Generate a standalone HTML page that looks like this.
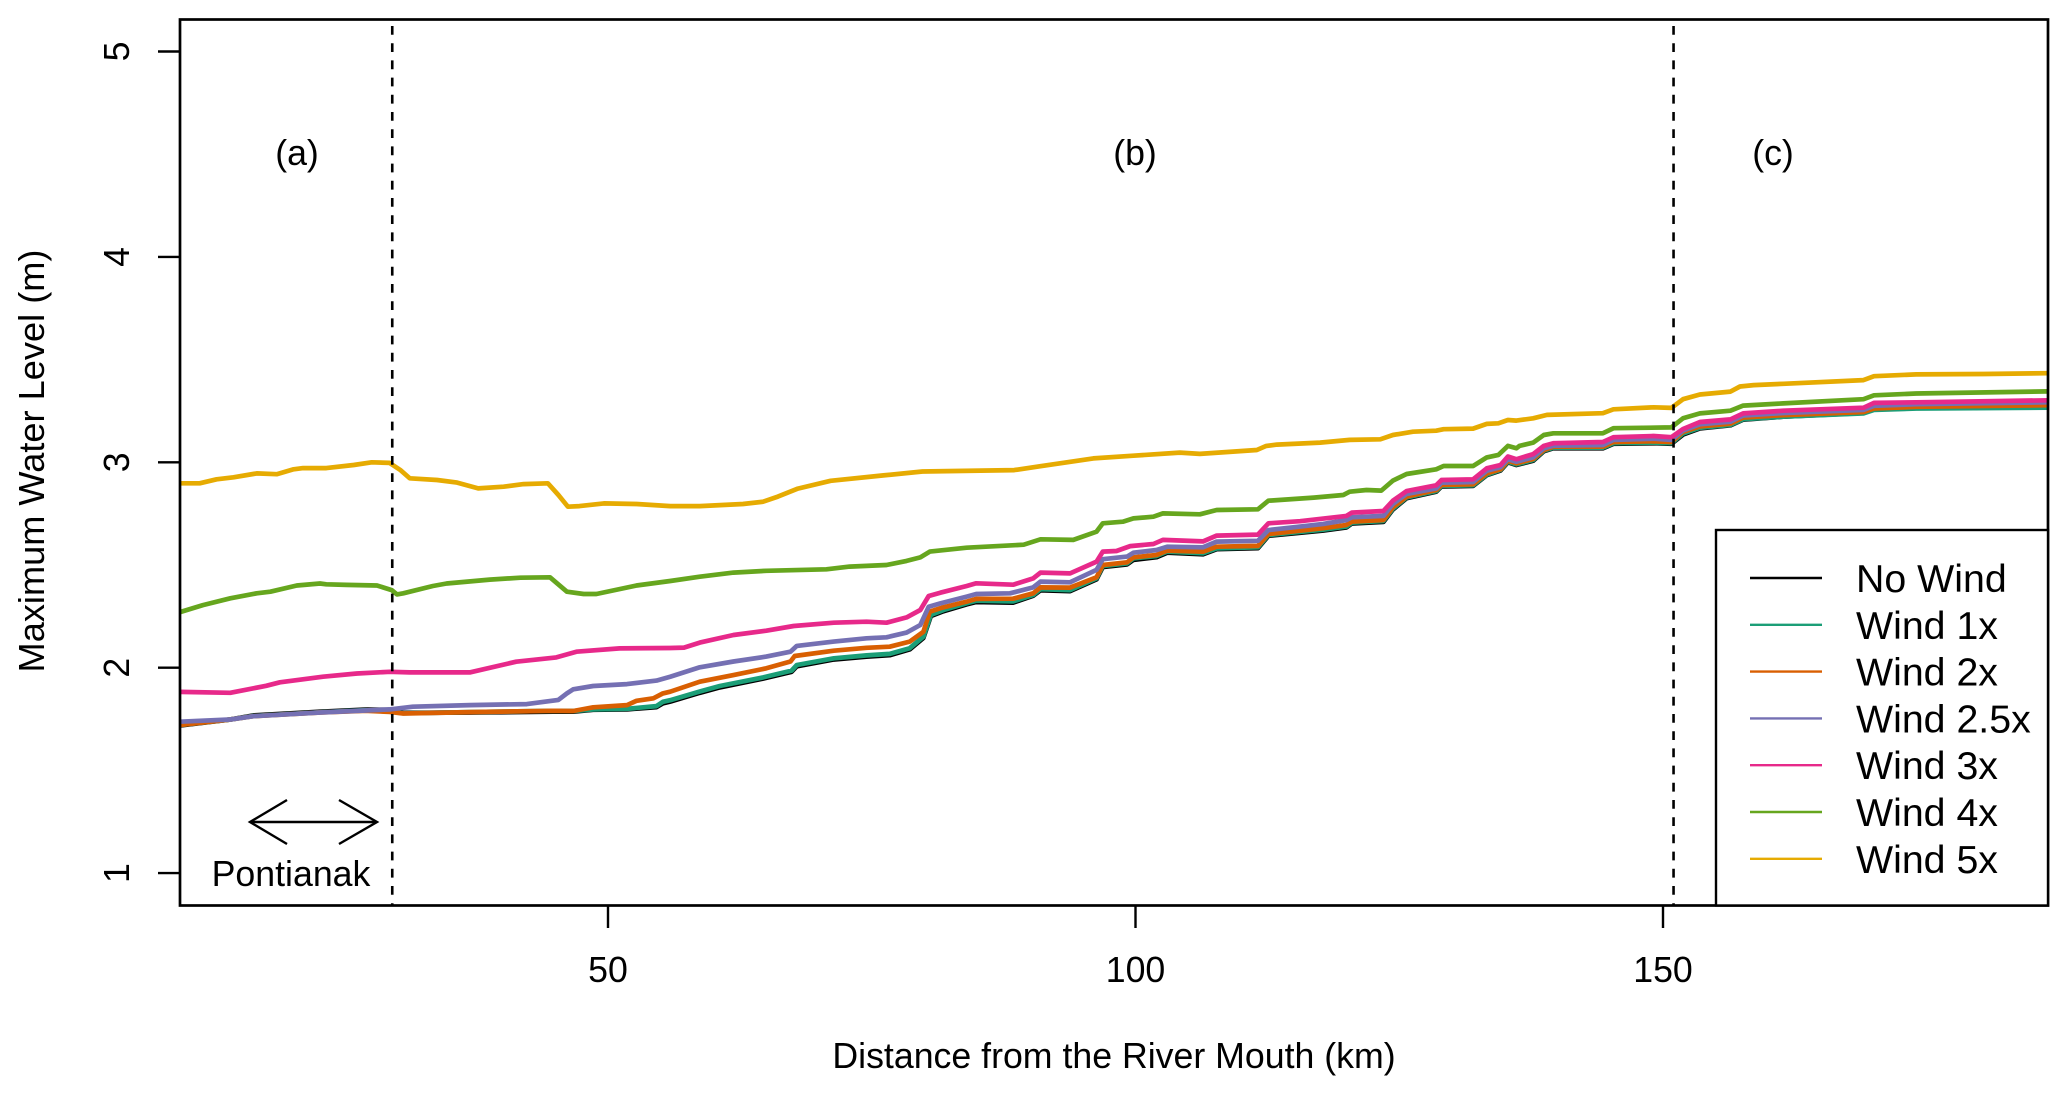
<!DOCTYPE html>
<html lang="en">
<head>
<meta charset="utf-8">
<title>Maximum Water Level vs Distance from the River Mouth</title>
<style>
html,body{margin:0;padding:0;background:#fff;width:2067px;height:1093px;overflow:hidden}
svg{display:block}
text{font-family:"Liberation Sans",Arial,sans-serif;fill:#000}
</style>
</head>
<body>
<svg id="chart" xmlns="http://www.w3.org/2000/svg" width="2067" height="1093" viewBox="0 0 2067 1093">
<rect x="0" y="0" width="2067" height="1093" fill="#fff"/>
<defs><clipPath id="plot-clip"><rect x="180" y="19.5" width="1868" height="886"/></clipPath></defs>
<g id="series-layer" clip-path="url(#plot-clip)"></g>
<g id="axis-layer"></g>
<rect x="180" y="19.5" width="1868" height="886" fill="none" stroke="#000" stroke-width="2.7"/>
<text x="1114" y="1068" font-size="35.7" text-anchor="middle">Distance from the River Mouth (km)</text>
<text transform="translate(44,461) rotate(-90)" font-size="36.2" text-anchor="middle">Maximum Water Level (m)</text>
<text x="297" y="165" font-size="35.7" text-anchor="middle">(a)</text>
<text x="1135" y="165" font-size="35.7" text-anchor="middle">(b)</text>
<text x="1773" y="165" font-size="35.7" text-anchor="middle">(c)</text>
<g fill="none" stroke="#000" stroke-width="2.4">
<line x1="250" y1="822" x2="377" y2="822"/>
<polyline points="287,800 250,822 287,844"/>
<polyline points="339,800 377,822 339,844"/>
</g>
<text x="291" y="886" font-size="35.7" text-anchor="middle">Pontianak</text>
<g id="legend-layer"></g>
</svg>
<script>
var xTicks = [50, 100, 150];
var yTicks = [1, 2, 3, 4, 5];
var regionBoundaries = [29.55, 151];

var noWindKm = [9.4,14.2,16.4,22.7,27,29.3,30.6,36.9,44.8,46.7,48.6,51.8,54.6,55.2,55.9,58.7,60.6,64.7,67.4,67.9,71.4,74.5,76.7,78.6,79.9,80.6,81.8,84,84.9,88.4,90.3,91,93.8,96.3,96.9,99.2,99.8,102,103,106.4,107.7,111.6,112.6,115.6,117.8,120,120.5,123.5,124.4,125.7,128.5,129,132,133.3,134.6,135.3,136.1,137.7,138.7,139.6,144.3,145.3,149.1,150.8,151.9,153.5,156.4,157.6,161.4,169,170,174,186.5];
var noWindLevel = [1.718,1.748,1.768,1.786,1.796,1.795,1.78,1.782,1.786,1.786,1.795,1.797,1.808,1.826,1.835,1.878,1.904,1.947,1.98,2.007,2.04,2.054,2.061,2.089,2.145,2.251,2.275,2.308,2.32,2.317,2.35,2.377,2.373,2.43,2.49,2.503,2.525,2.538,2.56,2.552,2.577,2.582,2.642,2.657,2.668,2.683,2.702,2.71,2.77,2.825,2.857,2.882,2.885,2.937,2.96,3,2.987,3.008,3.054,3.068,3.068,3.09,3.093,3.09,3.135,3.165,3.18,3.208,3.222,3.24,3.258,3.265,3.268];

var wind1xKm = [9.4,14.2,16.4,22.7,27,29.3,30.6,36.9,44.8,46.7,48.6,51.8,54.6,55.2,55.9,58.7,60.6,64.7,67.4,67.9,71.4,74.5,76.7,78.6,79.9,80.6,81.8,84,84.9,88.4,90.3,91,93.8,96.3,96.9,99.2,99.8,102,103,106.4,107.7,111.6,112.6,115.6,117.8,120,120.5,123.5,124.4,125.7,128.5,129,132,133.3,134.6,135.3,136.1,137.7,138.7,139.6,144.3,145.3,149.1,150.8,151.9,153.5,156.4,157.6,161.4,169,170,174,186.5];
var wind1xLevel = [1.721,1.748,1.765,1.783,1.793,1.787,1.778,1.784,1.79,1.789,1.797,1.8,1.813,1.834,1.842,1.884,1.911,1.953,1.986,2.013,2.046,2.06,2.067,2.095,2.151,2.257,2.281,2.314,2.326,2.323,2.354,2.382,2.378,2.435,2.495,2.508,2.532,2.544,2.565,2.557,2.581,2.586,2.646,2.661,2.672,2.687,2.706,2.714,2.774,2.829,2.86,2.885,2.888,2.94,2.963,3.003,2.99,3.011,3.057,3.071,3.071,3.093,3.096,3.093,3.14,3.168,3.182,3.21,3.222,3.238,3.255,3.262,3.266];

var wind2xKm = [9.4,14.2,16.4,22.7,27,29.3,30.6,36.9,44.8,46.7,48.6,51.8,52.7,54.3,55.2,55.9,58.7,61.9,65,67.3,67.7,71.4,74.5,76.7,78.6,79.9,80.5,81.8,84,84.9,88.4,90.3,91,93.8,96.3,96.9,99.2,99.8,102,103,106.4,107.7,111.6,112.6,115.6,117.8,120,120.5,123.5,124.4,125.7,128.5,129,132,133.3,134.6,135.3,136.1,137.7,138.7,139.6,144.3,145.3,149.1,150.8,151.9,153.5,156.4,157.6,161.4,169,170,174,186.5];
var wind2xLevel = [1.721,1.748,1.764,1.782,1.79,1.785,1.777,1.784,1.79,1.789,1.807,1.818,1.839,1.851,1.875,1.883,1.932,1.964,1.997,2.03,2.057,2.083,2.097,2.102,2.127,2.175,2.273,2.294,2.322,2.335,2.336,2.362,2.391,2.39,2.44,2.5,2.513,2.537,2.549,2.57,2.565,2.589,2.593,2.651,2.667,2.679,2.695,2.711,2.719,2.781,2.833,2.865,2.89,2.893,2.946,2.966,3.008,2.995,3.016,3.06,3.076,3.076,3.099,3.102,3.099,3.148,3.175,3.188,3.218,3.23,3.245,3.262,3.27,3.278];

var wind25xKm = [9.4,14.2,16.4,22.7,29.3,31.5,36.9,42.3,45.3,46.1,46.7,48.6,51.8,54.6,55.9,58.7,61.9,65,67.3,67.9,71.4,74.5,76.4,78.3,79.6,80.4,81.5,84,84.9,88.1,90.3,91,93.8,96.3,96.9,99.2,99.8,102,103,106.4,107.7,111.6,112.6,115.6,117.8,120,120.5,123.5,124.4,125.7,128.5,129,132,133.3,134.6,135.3,136.1,137.7,138.7,139.6,144.3,145.3,149.1,150.8,151.9,153.5,156.4,157.6,161.4,169,170,174,186.5];
var wind25xLevel = [1.737,1.748,1.764,1.782,1.797,1.81,1.818,1.823,1.843,1.875,1.895,1.911,1.92,1.937,1.956,2.002,2.03,2.054,2.078,2.106,2.127,2.143,2.148,2.171,2.208,2.297,2.313,2.346,2.359,2.362,2.391,2.419,2.416,2.476,2.528,2.541,2.56,2.573,2.589,2.586,2.614,2.618,2.67,2.687,2.7,2.719,2.732,2.739,2.797,2.846,2.873,2.901,2.904,2.959,2.976,3.015,3.003,3.024,3.068,3.081,3.084,3.109,3.115,3.109,3.155,3.185,3.198,3.228,3.24,3.255,3.275,3.283,3.292];

var wind3xKm = [9.4,14.2,17.6,18.9,23,26.2,29.3,31.2,36.9,41.3,45.1,47,51.1,55.9,57.2,58.7,61.9,65,67.6,71.4,74.5,76.4,78.3,79.6,80.4,81.5,84,84.9,88.4,90.3,91,93.8,96.3,96.9,98.2,99.5,101.7,102.6,106.4,107.7,111.6,112.6,115.6,117.8,120,120.5,123.5,124.4,125.7,128.5,129,132,133.3,134.6,135.3,136.1,137.7,138.7,139.6,144.3,145.3,149.1,150.8,151.9,153.5,156.4,157.6,161.4,169,170,174,186.5];
var wind3xLevel = [1.882,1.878,1.912,1.929,1.956,1.972,1.98,1.977,1.977,2.029,2.05,2.078,2.094,2.096,2.098,2.122,2.159,2.18,2.203,2.219,2.224,2.219,2.245,2.281,2.349,2.365,2.398,2.411,2.404,2.435,2.463,2.459,2.516,2.565,2.568,2.592,2.602,2.622,2.615,2.643,2.648,2.703,2.713,2.726,2.739,2.755,2.763,2.813,2.86,2.888,2.914,2.917,2.971,2.987,3.028,3.015,3.04,3.08,3.093,3.099,3.122,3.128,3.122,3.162,3.196,3.209,3.238,3.251,3.266,3.289,3.292,3.302];

var wind4xKm = [9.4,11.6,14.2,16.7,18,20.5,22.7,23.3,25.2,28.1,29.5,30,30.6,33.4,34.7,38.8,41.7,44.5,46.1,47.7,48.9,52.7,55.9,58.7,61.9,65,70.7,72.9,76.4,78.3,79.6,80.5,84,89.4,91,94.1,96.3,96.9,98.8,99.8,101.7,102.6,106.1,107.7,111.6,112.6,116.9,119.7,120.3,121.9,123.3,124.4,125.7,128.5,129.2,132,133.3,134.4,135.3,136.1,136.4,137.7,138.7,139.6,144.3,145.3,150.8,151.9,153.5,156.4,157.6,161.4,169,170,174,186.5];
var wind4xLevel = [2.27,2.305,2.338,2.362,2.37,2.4,2.41,2.406,2.403,2.4,2.378,2.357,2.362,2.398,2.41,2.429,2.438,2.44,2.37,2.359,2.359,2.4,2.422,2.443,2.463,2.472,2.479,2.492,2.5,2.52,2.537,2.565,2.584,2.599,2.625,2.622,2.662,2.703,2.711,2.727,2.735,2.751,2.747,2.768,2.771,2.813,2.828,2.841,2.857,2.865,2.862,2.911,2.943,2.966,2.982,2.982,3.024,3.036,3.08,3.068,3.08,3.096,3.133,3.141,3.141,3.166,3.17,3.214,3.238,3.251,3.276,3.287,3.307,3.326,3.335,3.345];

var wind5xKm = [9.4,11.3,12.9,14.5,16.7,18.6,20.2,21.1,23.3,25.9,27.6,29.3,30.3,31.2,33.8,35.7,37.7,40.1,42,44.3,45.3,46.2,47.3,49.6,52.7,55.9,58.7,62.8,64.7,66.1,68,71.1,76.1,79.8,88.5,91,96,99.8,104.2,106.1,111.5,112.4,113.4,117.5,120.3,123.2,124.4,126.3,128.5,129.2,132,133.3,134.4,135.3,136.1,137.7,139,144.3,145.3,149.1,150.8,151.9,153.5,156.4,157.3,158.6,161.4,169,170,174,180.4,186.5];
var wind5xLevel = [2.898,2.898,2.917,2.927,2.946,2.942,2.966,2.972,2.972,2.987,3,2.997,2.963,2.922,2.914,2.901,2.873,2.881,2.894,2.898,2.841,2.784,2.787,2.8,2.797,2.787,2.787,2.797,2.808,2.833,2.872,2.91,2.936,2.955,2.962,2.981,3.019,3.032,3.047,3.041,3.06,3.08,3.086,3.096,3.109,3.112,3.133,3.149,3.154,3.161,3.164,3.187,3.19,3.206,3.203,3.214,3.231,3.239,3.258,3.268,3.265,3.307,3.33,3.344,3.369,3.376,3.382,3.4,3.419,3.428,3.43,3.434];

var seriesNames = ["No Wind","Wind 1x","Wind 2x","Wind 2.5x","Wind 3x","Wind 4x","Wind 5x"];
var seriesKm = [noWindKm,wind1xKm,wind2xKm,wind25xKm,wind3xKm,wind4xKm,wind5xKm];
var seriesLevels = [noWindLevel,wind1xLevel,wind2xLevel,wind25xLevel,wind3xLevel,wind4xLevel,wind5xLevel];
var seriesColors = ["#000000","#1B9E77","#D95F02","#7570B3","#E7298A","#66A61E","#E6AB02"];

var NS = "http://www.w3.org/2000/svg";
function xScale(km){ return 608 + (km - 50) * 10.55; }
function yScale(v){ return 462.3 + (3 - v) * 205.4; }
function slug(s){ return s.toLowerCase().replace(/\./g,"-").replace(/\s+/g,"-"); }

var seriesLayer = document.getElementById("series-layer");
var axisLayer = document.getElementById("axis-layer");
var legendLayer = document.getElementById("legend-layer");

seriesNames.forEach(function(name,i){
  var pts = seriesKm[i].map(function(k,j){
    return xScale(k).toFixed(1)+","+yScale(seriesLevels[i][j]).toFixed(1);
  }).join(" ");
  var line = document.createElementNS(NS,"polyline");
  line.setAttribute("points",pts);
  line.setAttribute("fill","none");
  line.setAttribute("stroke",seriesColors[i]);
  line.setAttribute("stroke-width","4.7");
  line.setAttribute("stroke-linejoin","round");
  
  
  seriesLayer.appendChild(line);
});

regionBoundaries.forEach(function(k){
  var d = document.createElementNS(NS,"line");
  d.setAttribute("x1",xScale(k));
  d.setAttribute("x2",xScale(k));
  d.setAttribute("y1","26");
  d.setAttribute("y2","905");
  d.setAttribute("stroke","#000");
  d.setAttribute("stroke-width","2.6");
  d.setAttribute("stroke-dasharray","8.8 8.4");
  
  
  axisLayer.appendChild(d);
});

xTicks.forEach(function(t){
  var l = document.createElementNS(NS,"line");
  l.setAttribute("x1",xScale(t));
  l.setAttribute("x2",xScale(t));
  l.setAttribute("y1","905.5");
  l.setAttribute("y2","928");
  l.setAttribute("stroke","#000");
  l.setAttribute("stroke-width","2.4");
  
  
  axisLayer.appendChild(l);
  var tx = document.createElementNS(NS,"text");
  tx.setAttribute("x",xScale(t));
  tx.setAttribute("y","982");
  tx.setAttribute("font-size","35.7");
  tx.setAttribute("text-anchor","middle");
  tx.textContent = t;
  
  
  axisLayer.appendChild(tx);
});

yTicks.forEach(function(t){
  var l = document.createElementNS(NS,"line");
  l.setAttribute("x1","158");
  l.setAttribute("x2","180");
  l.setAttribute("y1",yScale(t));
  l.setAttribute("y2",yScale(t));
  l.setAttribute("stroke","#000");
  l.setAttribute("stroke-width","2.4");
  
  
  axisLayer.appendChild(l);
  var tx = document.createElementNS(NS,"text");
  tx.setAttribute("transform","translate(129,"+yScale(t)+") rotate(-90)");
  tx.setAttribute("font-size","35.7");
  tx.setAttribute("text-anchor","middle");
  tx.textContent = t;
  
  
  axisLayer.appendChild(tx);
});

var box = document.createElementNS(NS,"rect");
box.setAttribute("x","1716");
box.setAttribute("y","530");
box.setAttribute("width","332");
box.setAttribute("height","375.5");
box.setAttribute("fill","#fff");
box.setAttribute("stroke","#000");
box.setAttribute("stroke-width","2.4");


legendLayer.appendChild(box);

seriesNames.forEach(function(name,i){
  var y = 578 + i * 46.8;
  var key = document.createElementNS(NS,"line");
  key.setAttribute("x1","1750");
  key.setAttribute("x2","1822");
  key.setAttribute("y1",y);
  key.setAttribute("y2",y);
  key.setAttribute("stroke",seriesColors[i]);
  key.setAttribute("stroke-width","2.4");
  
  
  legendLayer.appendChild(key);
  var label = document.createElementNS(NS,"text");
  label.setAttribute("x","1856");
  label.setAttribute("y",y+14);
  label.setAttribute("font-size","39.3");
  label.textContent = name;
  
  
  legendLayer.appendChild(label);
});
</script>
</body>
</html>
